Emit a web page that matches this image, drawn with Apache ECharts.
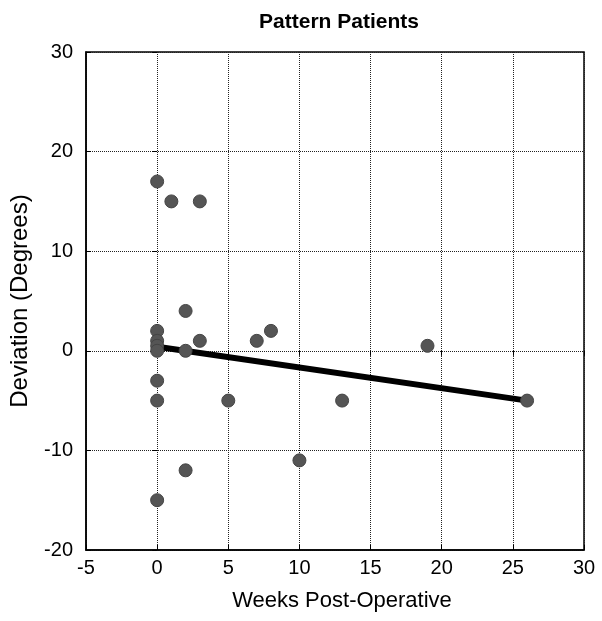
<!DOCTYPE html>
<html>
<head>
<meta charset="utf-8">
<script src="https://cdn.jsdelivr.net/npm/echarts@6/dist/echarts.min.js"></script>
<style>
  html, body { margin: 0; padding: 0; background: #fff; }
  #chart { width: 602px; height: 621px; }
</style>
</head>
<body>
<div id="chart"></div>
<script>
// weeks post-operative vs deviation (degrees)
const weeks = [0, 0, 0, 0, 0, 0, 0, 0, 1, 3, 2, 3, 2, 7, 8, 19, 5, 13, 26, 2, 10];
const deviation = [17, 2, 1, 0.5, 0, -3, -5, -15, 15, 15, 4, 1, 0, 1, 2, 0.5, -5, -5, -5, -12, -11];
// fitted trend line endpoints
const trendWeeks = [0, 26];
const trendDeviation = [0.4, -5.0];

const points = weeks.map((w, i) => [w, deviation[i]]);
const trend = trendWeeks.map((w, i) => [w, trendDeviation[i]]);

const chart = echarts.init(document.getElementById('chart'));

const font = 'Liberation Sans, Arial, sans-serif';
const dotted = { color: '#222', type: [1, 1], width: 1 };
const tick = { show: true, inside: true, length: 5, lineStyle: { color: '#000', width: 1 } };

chart.setOption({
  animation: false,
  title: {
    text: 'Pattern Patients',
    left: 334,
    top: 7,
    textAlign: 'center',
    textStyle: { fontFamily: font, fontSize: 21, fontWeight: 'bold', color: '#000' }
  },
  grid: {
    left: 86, right: 18, top: 52, bottom: 71,
    show: true, borderColor: '#000', borderWidth: 1.5, backgroundColor: 'transparent'
  },
  xAxis: [
    {
      type: 'value', min: -5, max: 30, interval: 5,
      name: 'Weeks Post-Operative', nameLocation: 'middle', nameGap: 40,
      nameTextStyle: { fontFamily: font, fontSize: 22, color: '#000', padding: [0, 0, 0, 14] },
      axisLine: { show: true, onZero: false, lineStyle: { color: '#000', width: 1.5 } },
      axisTick: tick,
      axisLabel: { fontFamily: font, fontSize: 20, color: '#000', margin: 8 },
      splitLine: { show: true, lineStyle: dotted }
    },
    {
      type: 'value', min: -5, max: 30, interval: 5, position: 'top',
      axisLine: { show: false }, axisTick: tick,
      axisLabel: { show: false }, splitLine: { show: false }
    }
  ],
  yAxis: [
    {
      type: 'value', min: -20, max: 30, interval: 10,
      name: 'Deviation (Degrees)', nameLocation: 'middle', nameGap: 54, nameRotate: 90,
      nameTextStyle: { fontFamily: font, fontSize: 24, color: '#000' },
      axisLine: { show: true, onZero: false, lineStyle: { color: '#000', width: 1.5 } },
      axisTick: tick,
      axisLabel: { fontFamily: font, fontSize: 20, color: '#000', margin: 13 },
      splitLine: { show: true, lineStyle: dotted }
    },
    {
      type: 'value', min: -20, max: 30, interval: 10, position: 'right',
      axisLine: { show: false }, axisTick: tick,
      axisLabel: { show: false }, splitLine: { show: false }
    }
  ],
  series: [
    {
      type: 'line',
      data: trend,
      symbol: 'none',
      lineStyle: { color: '#000', width: 6 },
      z: 3
    },
    {
      type: 'scatter',
      data: points,
      symbol: 'circle',
      symbolSize: 13,
      itemStyle: { color: '#555', borderColor: '#444', borderWidth: 1, opacity: 1 },
      z: 4
    }
  ]
});
</script>
</body>
</html>
